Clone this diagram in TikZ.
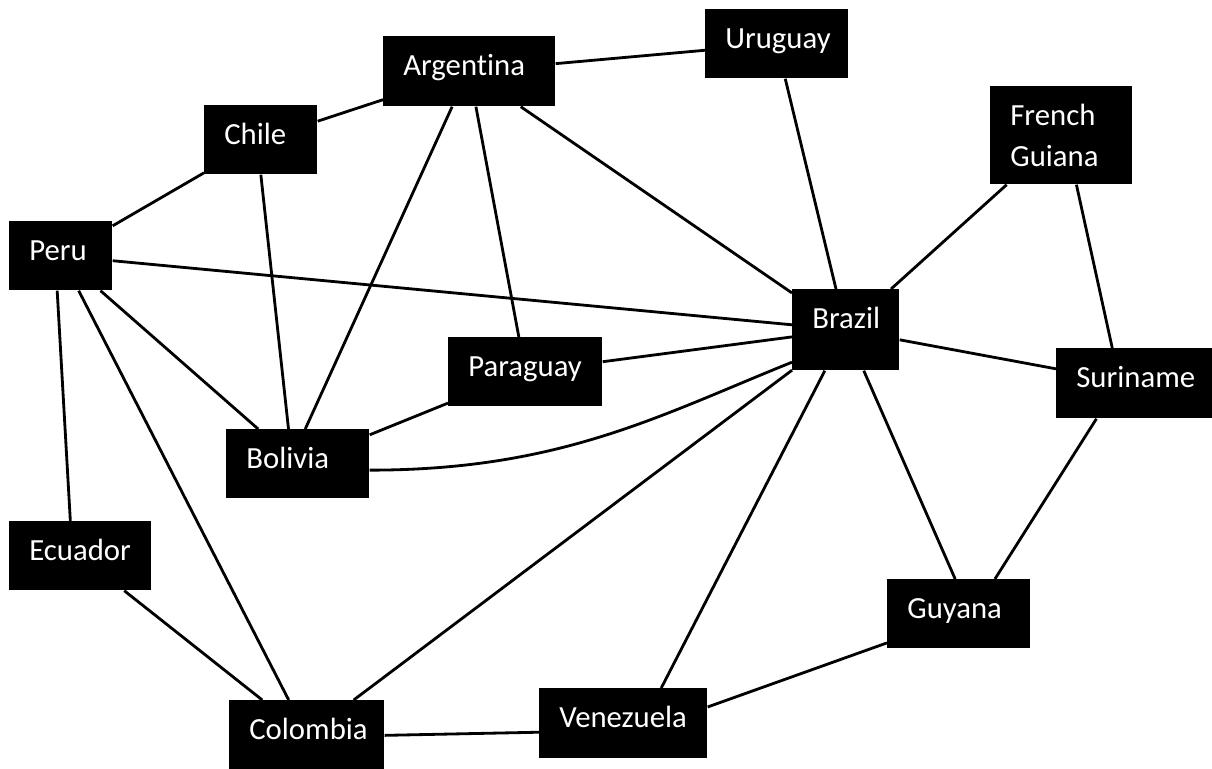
\documentclass[tikz,border=0pt]{standalone}
\usepackage{fontspec}
\setmainfont{Carlito}[Ligatures=NoCommon]

\begin{document}
\begin{tikzpicture}[x=0.02cm, y=-0.02cm,
  cty/.style={fill=black, text=white, anchor=north west, inner xsep=0.4cm, inner ysep=0pt,
    align=left, text height=0.79cm, font=\fontsize{17.5}{23.3}\selectfont},
  link/.style={line width=1.6pt}]
\useasboundingbox (0,0) rectangle (1212,768);

% countries, placed by their top left corner
\node[cty, text width=2.64cm, text depth=0.61cm] (arg) at (383,36) {Argentina};
\node[cty, text width=2.06cm, text depth=0.59cm] (uru) at (705,9) {Uruguay};
\node[cty, text width=1.46cm, text depth=0.59cm] (chi) at (204,105) {Chile};
\node[cty, text width=2.04cm, text depth=1.17cm] (fg) at (990,86) {French\\Guiana};
\node[cty, text width=1.26cm, text depth=0.59cm] (peru) at (9,221) {Peru};
\node[cty, text width=1.34cm, text depth=0.83cm] (bra) at (792,289) {Brazil};
\node[cty, text width=2.28cm, text depth=0.59cm] (par) at (448,337) {Paraguay};
\node[cty, text width=2.32cm, text depth=0.61cm] (sur) at (1056,348) {Suriname};
\node[cty, text width=2.06cm, text depth=0.59cm] (bol) at (226,429) {Bolivia};
\node[cty, text width=2.04cm, text depth=0.59cm] (ecu) at (9,521) {Ecuador};
\node[cty, text width=2.06cm, text depth=0.59cm] (guy) at (887,579) {Guyana};
\node[cty, text width=2.30cm, text depth=0.61cm] (col) at (229,700) {Colombia};
\node[cty, text width=2.56cm, text depth=0.61cm] (ven) at (539,688) {Venezuela};

% borders
\foreach \a/\b in {arg/uru, arg/chi, arg/bra, arg/par, arg.244/bol.78,
    chi/peru, chi.south/bol.105, peru/bra, peru/bol, peru.264/ecu.106, peru/col,
    uru/bra, fg/bra, fg.287/sur.122, bra/sur, bra/par, bra/col,
    ven.43/bra, guy.96/bra, sur.223/guy.44, guy.202/ven.11,
    col.east/ven.186, ecu/col, par/bol}{
  \draw[link] (\a) -- (\b);
}
\draw[link] (bol.355) .. controls +(191,0) and +(-132,53) .. (bra.211);
\end{tikzpicture}
\end{document}
